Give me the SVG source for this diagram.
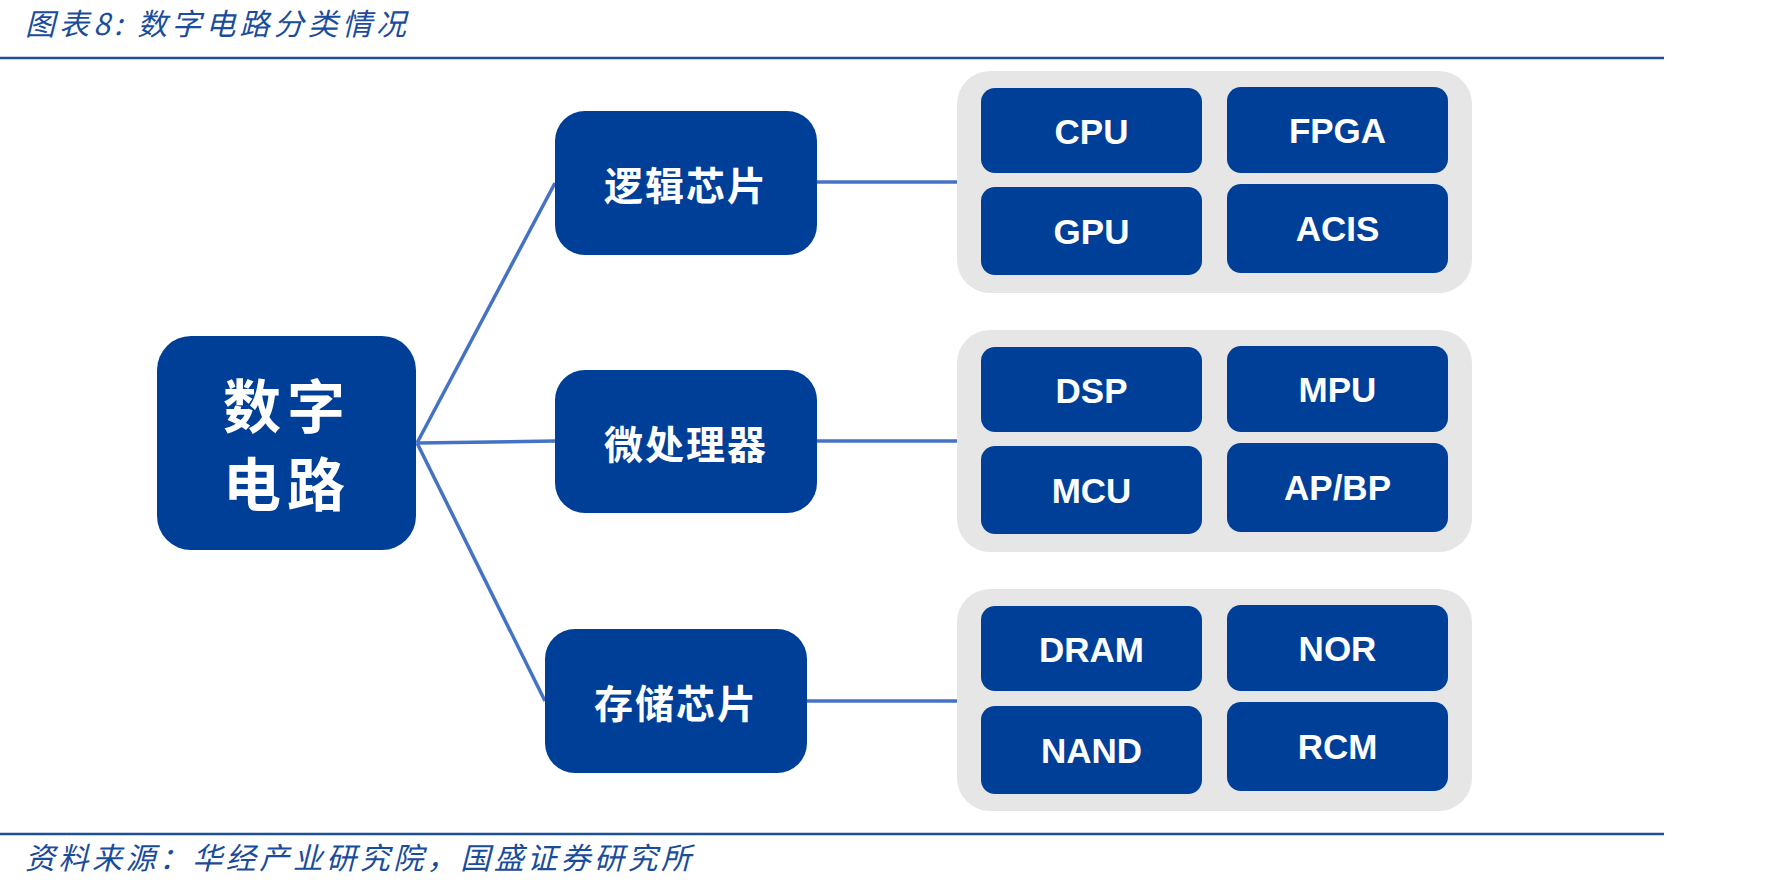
<svg xmlns="http://www.w3.org/2000/svg" width="1784" height="889" viewBox="0 0 1784 889">
<style>
.rule{stroke:#1F4E9A;stroke-width:2.5}
.cap{font-family:"Noto Sans CJK SC","Liberation Sans",sans-serif;font-style:italic;font-size:30px;fill:#1A4C9C}
.node{fill:#003F97}
.grp{fill:#E6E6E6}
.cn{font-family:"Noto Sans CJK SC",sans-serif;font-weight:bold;fill:#FFFFFF;text-anchor:middle;dominant-baseline:central}
.en{font-family:"Liberation Sans",Arial,sans-serif;font-weight:bold;font-size:35px;fill:#FFFFFF;text-anchor:middle;dominant-baseline:central}
.conn{stroke:#4472C4;stroke-width:3.5;fill:none}
</style>
<rect width="1784" height="889" fill="#FFFFFF"/>
<text class="cap" x="25" y="35" textLength="381" lengthAdjust="spacing">图表8: 数字电路分类情况</text>
<line class="rule" x1="0" y1="58" x2="1664" y2="58"/>
<line class="rule" x1="0" y1="834" x2="1664" y2="834"/>
<text class="cap" x="25" y="869" textLength="666" lengthAdjust="spacing">资料来源：华经产业研究院，国盛证券研究所</text>

<g id="connectors">
<line class="conn" x1="417" y1="443" x2="555" y2="183"/>
<line class="conn" x1="417" y1="443" x2="555" y2="441"/>
<line class="conn" x1="417" y1="443" x2="545" y2="701"/>
<line class="conn" x1="817" y1="182" x2="957" y2="182"/>
<line class="conn" x1="817" y1="441" x2="957" y2="441"/>
<line class="conn" x1="807" y1="701" x2="957" y2="701"/>
</g>

<g id="main">
<rect class="node" x="157" y="336" width="259" height="214" rx="34"/>
<text class="cn" font-size="58" x="287" y="403" letter-spacing="6">数字</text>
<text class="cn" font-size="58" x="287" y="481" letter-spacing="6">电路</text>
</g>

<g id="logic">
<rect class="node" x="555" y="111" width="262" height="144" rx="30"/>
<text class="cn" font-size="39" x="686" y="183" letter-spacing="2">逻辑芯片</text>
</g>
<g id="micro">
<rect class="node" x="555" y="370" width="262" height="143" rx="30"/>
<text class="cn" font-size="39" x="686" y="442" letter-spacing="2">微处理器</text>
</g>
<g id="memory">
<rect class="node" x="545" y="629" width="262" height="144" rx="30"/>
<text class="cn" font-size="39" x="676" y="701" letter-spacing="2">存储芯片</text>
</g>

<g id="group-logic">
<rect class="grp" x="957" y="71" width="515" height="222" rx="33"/>
<g id="cpu"><rect class="node" x="981" y="88" width="221" height="85" rx="14"/><text class="en" x="1091.5" y="131">CPU</text></g>
<g id="fpga"><rect class="node" x="1227" y="87" width="221" height="86" rx="14"/><text class="en" x="1337.5" y="130">FPGA</text></g>
<g id="gpu"><rect class="node" x="981" y="187" width="221" height="88" rx="14"/><text class="en" x="1091.5" y="231">GPU</text></g>
<g id="acis"><rect class="node" x="1227" y="184" width="221" height="89" rx="14"/><text class="en" x="1337.5" y="228">ACIS</text></g>
</g>

<g id="group-micro">
<rect class="grp" x="957" y="330" width="515" height="222" rx="33"/>
<g id="dsp"><rect class="node" x="981" y="347" width="221" height="85" rx="14"/><text class="en" x="1091.5" y="390">DSP</text></g>
<g id="mpu"><rect class="node" x="1227" y="346" width="221" height="86" rx="14"/><text class="en" x="1337.5" y="389">MPU</text></g>
<g id="mcu"><rect class="node" x="981" y="446" width="221" height="88" rx="14"/><text class="en" x="1091.5" y="490">MCU</text></g>
<g id="apbp"><rect class="node" x="1227" y="443" width="221" height="89" rx="14"/><text class="en" x="1337.5" y="487">AP/BP</text></g>
</g>

<g id="group-memory">
<rect class="grp" x="957" y="589" width="515" height="222" rx="33"/>
<g id="dram"><rect class="node" x="981" y="606" width="221" height="85" rx="14"/><text class="en" x="1091.5" y="649">DRAM</text></g>
<g id="nor"><rect class="node" x="1227" y="605" width="221" height="86" rx="14"/><text class="en" x="1337.5" y="648">NOR</text></g>
<g id="nand"><rect class="node" x="981" y="706" width="221" height="88" rx="14"/><text class="en" x="1091.5" y="750">NAND</text></g>
<g id="rcm"><rect class="node" x="1227" y="702" width="221" height="89" rx="14"/><text class="en" x="1337.5" y="746">RCM</text></g>
</g>
</svg>
